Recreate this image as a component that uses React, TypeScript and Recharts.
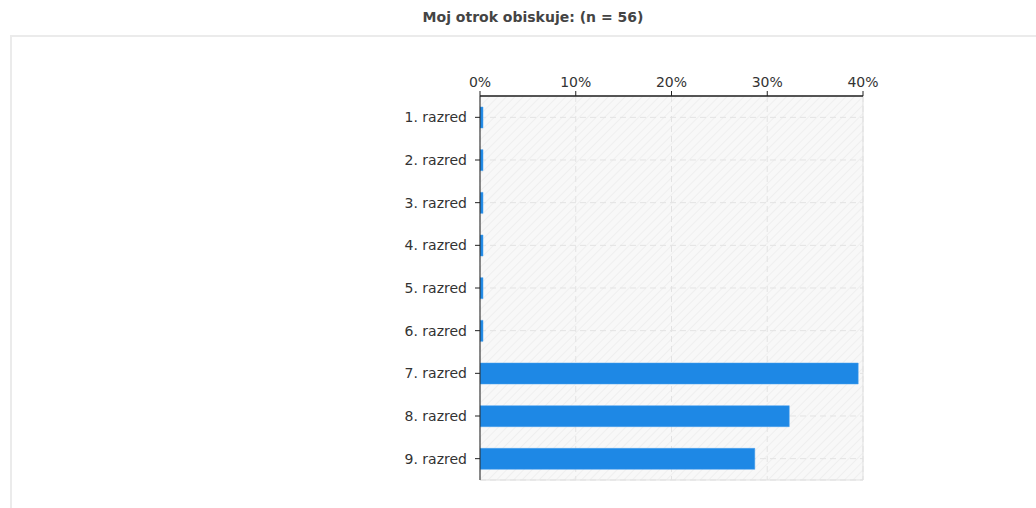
import React from "react";
import {
  BarChart,
  Bar,
  XAxis,
  YAxis,
  CartesianGrid,
  ReferenceArea,
} from "recharts";

const categories = [
  "1. razred",
  "2. razred",
  "3. razred",
  "4. razred",
  "5. razred",
  "6. razred",
  "7. razred",
  "8. razred",
  "9. razred",
];
const shares = [0, 0, 0, 0, 0, 0, 0.395, 0.323, 0.287];
const xTicks = [0, 0.1, 0.2, 0.3, 0.4];
const title = "Moj otrok obiskuje: (n = 56)";

const data = categories.map((c, i) => ({ name: c, value: shares[i] }));

const FONT = "'DejaVu Sans', Verdana, sans-serif";

export default function App() {
  return (
    <div
      style={{
        position: "absolute",
        left: 0,
        top: 0,
        width: 1036,
        height: 508,
        overflow: "hidden",
        background: "#fff",
      }}
    >
      <div
        style={{
          position: "absolute",
          left: 0,
          top: 9,
          width: 1066,
          textAlign: "center",
          fontFamily: FONT,
          fontWeight: "bold",
          fontSize: 14,
          color: "#444",
        }}
      >
        {title}
      </div>
      <div
        style={{
          position: "absolute",
          left: 10,
          top: 35,
          width: 1200,
          height: 600,
          border: "2px solid #ebebeb",
          boxSizing: "border-box",
        }}
      />
      <div style={{ position: "absolute", left: 0, top: 0 }}>
        <BarChart
          width={1036}
          height={508}
          layout="vertical"
          data={data}
          margin={{ top: 66, right: 173, bottom: 28, left: 380 }}
        >
          <defs>
            <pattern
              id="hatch"
              patternUnits="userSpaceOnUse"
              width="6"
              height="6"
              patternTransform="rotate(45)"
            >
              <rect width="6" height="6" fill="#f8f8f8" />
              <line x1="0" y1="0" x2="0" y2="6" stroke="#ededed" strokeWidth="1.5" />
            </pattern>
          </defs>
          <CartesianGrid
            fill="url(#hatch)"
            fillOpacity={1}
            stroke="#e3e3e3"
            strokeDasharray="6 4"
          />
          <ReferenceArea
            x1={0}
            x2={0.4}
            fill="none"
            stroke="#e0e0e0"
            strokeWidth={1}
          />
          <XAxis
            type="number"
            orientation="top"
            domain={[0, 0.4]}
            ticks={xTicks}
            tickFormatter={(v: number) => `${Math.round(v * 100)}%`}
            height={30}
            axisLine={{ stroke: "#222", strokeWidth: 1.5 }}
            tickLine={{ stroke: "#222" }}
            tickSize={5}
            tickMargin={4}
            tick={{ fill: "#333", fontSize: 14, fontFamily: FONT }}
            allowDataOverflow
          />
          <YAxis
            type="category"
            dataKey="name"
            width={100}
            axisLine={{ stroke: "#222", strokeWidth: 1 }}
            tickLine={{ stroke: "#222" }}
            tickSize={5}
            tickMargin={8}
            tick={{ fill: "#333", fontSize: 14, fontFamily: FONT }}
          />
          <Bar
            dataKey="value"
            fill="#1e88e5"
            stroke="#4aa0ee"
            strokeWidth={0.5}
            barSize={21}
            minPointSize={3}
            isAnimationActive={false}
          />
        </BarChart>
      </div>
    </div>
  );
}
